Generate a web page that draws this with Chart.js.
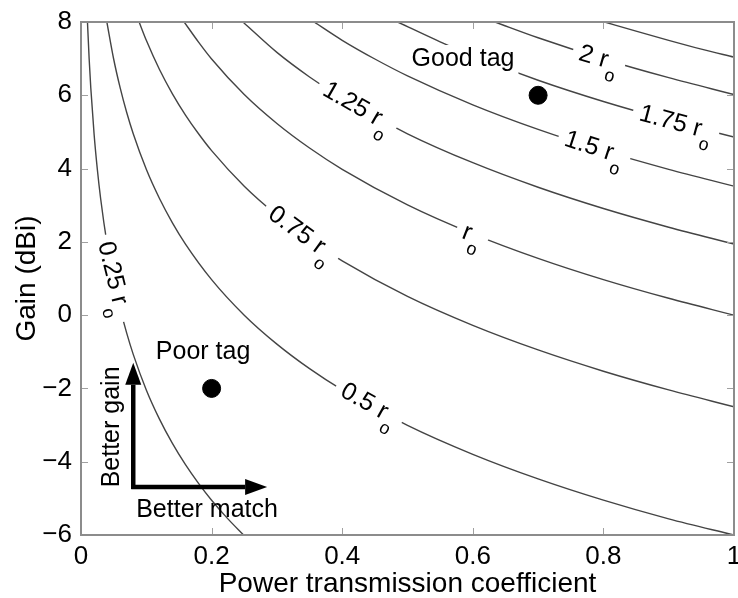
<!DOCTYPE html>
<html>
<head>
<meta charset="utf-8">
<script src="https://cdn.jsdelivr.net/npm/chart.js@4.4.1/dist/chart.umd.min.js"></script>
<style>
  html, body { margin: 0; padding: 0; background: #fff; }
</style>
</head>
<body>
<canvas id="chart" width="738" height="598"></canvas>
<script>
// Read-range contours: [power transmission coefficient, gain dBi]
const xTicks = [0, 0.2, 0.4, 0.6, 0.8, 1];
const yTicks = [-6, -4, -2, 0, 2, 4, 6, 8];

const curve025 = [[0.0099, 8.0], [0.0125, 6.99], [0.015, 6.2], [0.02, 4.95], [0.025, 3.98], [0.03, 3.19],
  [0.04, 1.94], [0.05, 0.97], [0.06, 0.18], [0.07, -0.49], [0.08, -1.07], [0.1, -2.04], [0.12, -2.83],
  [0.14, -3.5], [0.16, -4.08], [0.18, -4.59], [0.2, -5.05], [0.225, -5.56], [0.249, -6.0]];
const curve050 = [[0.0396, 8.0], [0.05, 6.99], [0.06, 6.2], [0.07, 5.53], [0.08, 4.95], [0.1, 3.98],
  [0.12, 3.19], [0.14, 2.52], [0.16, 1.94], [0.2, 0.97], [0.25, 0.0], [0.3, -0.79], [0.35, -1.46],
  [0.4, -2.04], [0.5, -3.01], [0.6, -3.8], [0.7, -4.47], [0.8, -5.05], [0.9, -5.56], [1.0, -6.0]];
const curve075 = [[0.089, 8.0], [0.1, 7.5], [0.12, 6.71], [0.14, 6.04], [0.16, 5.46], [0.18, 4.95],
  [0.2, 4.49], [0.25, 3.52], [0.3, 2.73], [0.35, 2.06], [0.4, 1.48], [0.5, 0.51], [0.6, -0.28],
  [0.7, -0.95], [0.8, -1.53], [0.9, -2.04], [1.0, -2.5]];
const curve100 = [[0.158, 8.0], [0.18, 7.45], [0.2, 6.99], [0.25, 6.02], [0.3, 5.23], [0.35, 4.56],
  [0.4, 3.98], [0.5, 3.01], [0.6, 2.22], [0.7, 1.55], [0.8, 0.97], [0.9, 0.46], [1.0, 0.0]];
const curve125 = [[0.248, 8.0], [0.3, 7.17], [0.35, 6.5], [0.4, 5.92], [0.5, 4.95], [0.6, 4.16],
  [0.7, 3.49], [0.8, 2.91], [0.9, 2.4], [1.0, 1.94]];
const curve150 = [[0.357, 8.0], [0.4, 7.5], [0.45, 6.99], [0.5, 6.53], [0.6, 5.74], [0.7, 5.07],
  [0.8, 4.49], [0.9, 3.98], [1.0, 3.52]];
const curve175 = [[0.485, 8.0], [0.55, 7.46], [0.6, 7.08], [0.7, 6.41], [0.8, 5.83], [0.9, 5.32], [1.0, 4.86]];
const curve200 = [[0.634, 8.0], [0.7, 7.57], [0.8, 6.99], [0.9, 6.48], [1.0, 6.02]];
const curve225 = [[0.802, 8.0], [0.85, 7.75], [0.9, 7.5], [0.95, 7.26], [1.0, 7.04]];

const curves = [curve025, curve050, curve075, curve100, curve125, curve150, curve175, curve200, curve225];

// inline contour labels ("" = no label)
const labelText = ['0.25 r', '0.5 r', '0.75 r', 'r', '1.25 r', '1.5 r', '1.75 r', '2 r', ''];
const labelTau = [0.05, 0.441, 0.337, 0.599, 0.423, 0.786, 0.911, 0.793, null];
const labelGain = [1.0, -2.43, 2.22, 2.19, 5.68, 4.56, 5.24, 7.0, null];
const labelAngle = [76, 29, 36, 21, 30, 18, 15, 16, null];

// example tags
const tagNames = ['Good tag', 'Poor tag'];
const tagTau = [0.7, 0.2];
const tagGain = [6, -2];

const FONT = '"Liberation Sans", Arial, Helvetica, sans-serif';

function drawContourLabel(ctx, x, y, angle, main) {
  ctx.save();
  ctx.translate(x, y);
  ctx.rotate(angle * Math.PI / 180);
  ctx.font = '25px ' + FONT;
  const w1 = ctx.measureText(main).width;
  ctx.font = '18px ' + FONT;
  const w2 = ctx.measureText('o').width;
  const total = w1 + 1 + w2;
  ctx.fillStyle = '#fff';
  ctx.fillRect(-total / 2 - 7, -14, total + 14, 36);
  ctx.fillStyle = '#000';
  ctx.textBaseline = 'middle';
  ctx.textAlign = 'left';
  ctx.font = '25px ' + FONT;
  ctx.fillText(main, -total / 2, 0);
  ctx.font = '18px ' + FONT;
  ctx.fillText('o', -total / 2 + w1 + 1, 14);
  ctx.restore();
}

function drawArrow(ctx, x1, y1, x2, y2) {
  const ang = Math.atan2(y2 - y1, x2 - x1);
  const head = 22, half = 8;
  const bx = x2 - head * Math.cos(ang), by = y2 - head * Math.sin(ang);
  ctx.beginPath();
  ctx.moveTo(x1, y1);
  ctx.lineTo(bx, by);
  ctx.stroke();
  ctx.beginPath();
  ctx.moveTo(x2, y2);
  ctx.lineTo(bx + half * Math.sin(ang), by - half * Math.cos(ang));
  ctx.lineTo(bx - half * Math.sin(ang), by + half * Math.cos(ang));
  ctx.closePath();
  ctx.fill();
}

const annotations = {
  id: 'annotations',
  afterDatasetsDraw(chart) {
    const ctx = chart.ctx;
    const xs = chart.scales.x, ys = chart.scales.y;

    labelText.forEach((t, i) => {
      if (!t) return;
      drawContourLabel(ctx, xs.getPixelForValue(labelTau[i]), ys.getPixelForValue(labelGain[i]), labelAngle[i], t);
    });

    // tag names
    ctx.save();
    ctx.font = '25px ' + FONT;
    ctx.textAlign = 'center';
    ctx.textBaseline = 'middle';
    const tagPos = [[0.585, 6.99], [0.187, -1.0]];
    tagNames.forEach((n, i) => {
      const px = xs.getPixelForValue(tagPos[i][0]);
      const py = ys.getPixelForValue(tagPos[i][1]);
      const w = ctx.measureText(n).width;
      ctx.fillStyle = '#fff';
      ctx.fillRect(px - w / 2 - 4, py - 14, w + 8, 30);
      ctx.fillStyle = '#000';
      ctx.fillText(n, px, py);
    });

    // "better" arrows
    const ox = xs.getPixelForValue(0.08), oy = ys.getPixelForValue(-4.69);
    ctx.strokeStyle = '#000';
    ctx.fillStyle = '#000';
    ctx.lineWidth = 4.5;
    drawArrow(ctx, ox, oy + 2, ox, ys.getPixelForValue(-1.3));
    drawArrow(ctx, ox - 2, oy, xs.getPixelForValue(0.285), oy);
    ctx.fillText('Better match', xs.getPixelForValue(0.193), ys.getPixelForValue(-5.32));
    ctx.translate(xs.getPixelForValue(0.047), ys.getPixelForValue(-3.05));
    ctx.rotate(-Math.PI / 2);
    ctx.fillText('Better gain', 0, 0);
    ctx.restore();
  },
  afterDraw(chart) {
    const ctx = chart.ctx;
    const a = chart.chartArea;
    const xs = chart.scales.x, ys = chart.scales.y;
    ctx.save();
    // x tick labels (drawn here so the last one may run off the canvas edge)
    ctx.fillStyle = '#000';
    ctx.font = '26px ' + FONT;
    ctx.textAlign = 'center';
    ctx.textBaseline = 'top';
    xTicks.forEach(v => {
      ctx.fillText(String(v), xs.getPixelForValue(v), a.bottom + 9);
    });
    // inward tick marks
    ctx.strokeStyle = '#a0a0a0';
    ctx.lineWidth = 1;
    const tl = 7;
    xTicks.forEach(v => {
      const p = Math.round(xs.getPixelForValue(v)) + 0.5;
      ctx.beginPath();
      ctx.moveTo(p, a.bottom); ctx.lineTo(p, a.bottom - tl);
      ctx.moveTo(p, a.top); ctx.lineTo(p, a.top + tl);
      ctx.stroke();
    });
    yTicks.forEach(v => {
      const p = Math.round(ys.getPixelForValue(v)) + 0.5;
      ctx.beginPath();
      ctx.moveTo(a.left, p); ctx.lineTo(a.left + tl, p);
      ctx.moveTo(a.right, p); ctx.lineTo(a.right - tl, p);
      ctx.stroke();
    });
    ctx.strokeStyle = '#8c8c8c';
    ctx.lineWidth = 2;
    ctx.strokeRect(a.left, a.top, a.right - a.left, a.bottom - a.top);
    ctx.restore();
  }
};

const datasets = curves.map(c => ({
  data: c.map(p => ({ x: p[0], y: p[1] })),
  showLine: true,
  borderColor: '#444',
  borderWidth: 1.4,
  pointRadius: 0,
  cubicInterpolationMode: 'monotone'
}));
datasets.push({
  data: tagTau.map((t, i) => ({ x: t, y: tagGain[i] })),
  showLine: false,
  pointRadius: 9,
  pointBackgroundColor: '#000',
  pointBorderColor: '#000'
});

new Chart(document.getElementById('chart'), {
  type: 'scatter',
  data: { datasets },
  options: {
    responsive: false,
    animation: false,
    devicePixelRatio: 1,
    layout: { autoPadding: false, padding: { top: 22, right: 4, left: 0, bottom: 0 } },
    plugins: { legend: { display: false }, tooltip: { enabled: false } },
    scales: {
      x: {
        type: 'linear',
        min: 0,
        max: 1,
        grid: { display: false, drawTicks: false },
        border: { display: false },
        afterBuildTicks: s => { s.ticks = xTicks.map(v => ({ value: v })); },
        afterFit: s => { s.height = 63; s.paddingLeft = 0; s.paddingRight = 0; },
        ticks: { display: false },
        title: {
          display: true,
          text: 'Power transmission coefficient',
          color: '#000',
          padding: { top: 0, bottom: 0 },
          font: { family: FONT, size: 28, lineHeight: 1 }
        }
      },
      y: {
        type: 'linear',
        min: -6,
        max: 8,
        grid: { display: false, drawTicks: false },
        border: { display: false },
        afterBuildTicks: s => { s.ticks = yTicks.map(v => ({ value: v })); },
        afterFit: s => { s.width = 81; s.paddingTop = 0; s.paddingBottom = 0; },
        ticks: {
          padding: 9,
          color: '#000',
          autoSkip: false,
          font: { family: FONT, size: 26 },
          callback: v => String(v).replace('-', '\u2212')
        },
        title: {
          display: true,
          text: 'Gain (dBi)',
          color: '#000',
          padding: { top: 10, bottom: 0 },
          font: { family: FONT, size: 28, lineHeight: 1.2 }
        }
      }
    }
  },
  plugins: [annotations]
});
</script>
</body>
</html>
